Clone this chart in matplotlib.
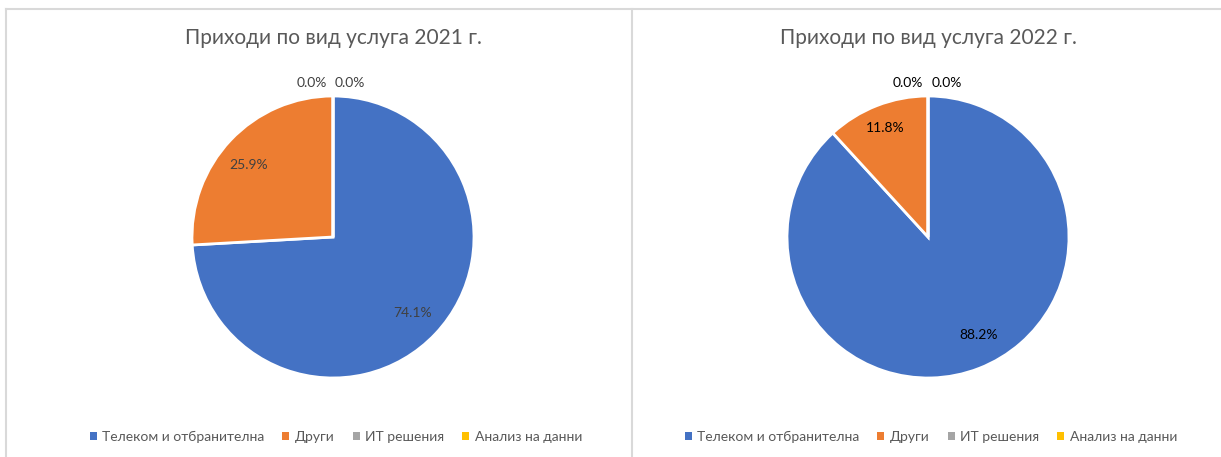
import numpy as np
import matplotlib.pyplot as plt
from matplotlib.patches import Patch
from matplotlib.lines import Line2D

plt.rcParams['font.family'] = ['Lato', 'Open Sans', 'DejaVu Sans']

# data
categories = ["Телеком и отбранителна", "Други", "ИТ решения", "Анализ на данни"]
titles = ["Приходи по вид услуга 2021 г.", "Приходи по вид услуга 2022 г."]
shares_2021 = [74.1, 25.9, 0.0, 0.0]
shares_2022 = [88.2, 11.8, 0.0, 0.0]

colors = ["#4472C4", "#ED7D31", "#A5A5A5", "#FFC000"]

W, H = 1221, 457
fig = plt.figure(figsize=(W / 100, H / 100), dpi=100)

# chart frame (grey lines like the spreadsheet chart area)
frame_col = "#D9D9D9"
fig.add_artist(Line2D([6 / W, 1.0], [1 - 9 / H, 1 - 9 / H], color=frame_col, lw=1.5))
fig.add_artist(Line2D([6 / W, 6 / W], [0, 1 - 9 / H], color=frame_col, lw=1.5))
fig.add_artist(Line2D([632 / W, 632 / W], [0, 1 - 9 / H], color=frame_col, lw=1.5))

panels = [
    # centre x, label colour, per-wedge (label angle offset, distance), zero label x offsets
    {"cx": 333, "values": shares_2021, "title": titles[0], "lab_col": "#404040",
     "lab_pos": [(0, 0.78), (3, 0.79)], "zero_x": [-0.15, 0.12]},
    {"cx": 928, "values": shares_2022, "title": titles[1], "lab_col": "#000000",
     "lab_pos": [(6, 0.78), (0, 0.83)], "zero_x": [-0.14, 0.13]},
]

r_px = 141
cy = 237
size = 2.5 * r_px

for p in panels:
    ax = fig.add_axes([(p["cx"] - size / 2) / W, (H - cy - size / 2) / H, size / W, size / H])
    wedges, _ = ax.pie(p["values"], colors=colors, startangle=90, counterclock=False,
                       wedgeprops=dict(edgecolor="white", linewidth=2))
    ax.set_xlim(-1.25, 1.25)
    ax.set_ylim(-1.25, 1.25)
    ax.set_aspect("equal")

    total = sum(p["values"])
    zero_idx = 0
    for i, (w, v) in enumerate(zip(wedges, p["values"])):
        txt = f"{v / total * 100:.1f}%"
        if v == 0:
            # zero slices sit at the top, labels just outside the rim
            xoff = p["zero_x"][zero_idx]
            zero_idx += 1
            ax.text(xoff, 1.09, txt, ha="center", va="center", fontsize=10, color=p["lab_col"])
            continue
        off, dist = p["lab_pos"][i]
        ang = np.deg2rad((w.theta1 + w.theta2) / 2 + off)
        ax.text(dist * np.cos(ang), dist * np.sin(ang), txt, ha="center", va="center",
                fontsize=10, color=p["lab_col"])

    fig.text(p["cx"] / W, 1 - 38 / H, p["title"], ha="center", va="center",
             fontsize=15, color="#595959")

    handles = [Patch(facecolor=c, edgecolor="none") for c in colors]
    fig.legend(handles, categories, loc="center", ncol=4,
               bbox_to_anchor=((p["cx"] + 3) / W, 1 - 437 / H), frameon=False,
               fontsize=10, labelcolor="#595959", handlelength=0.5, handleheight=0.5,
               handletextpad=0.4, columnspacing=1.3)

fig.savefig("out.png", dpi=100, facecolor="white")
